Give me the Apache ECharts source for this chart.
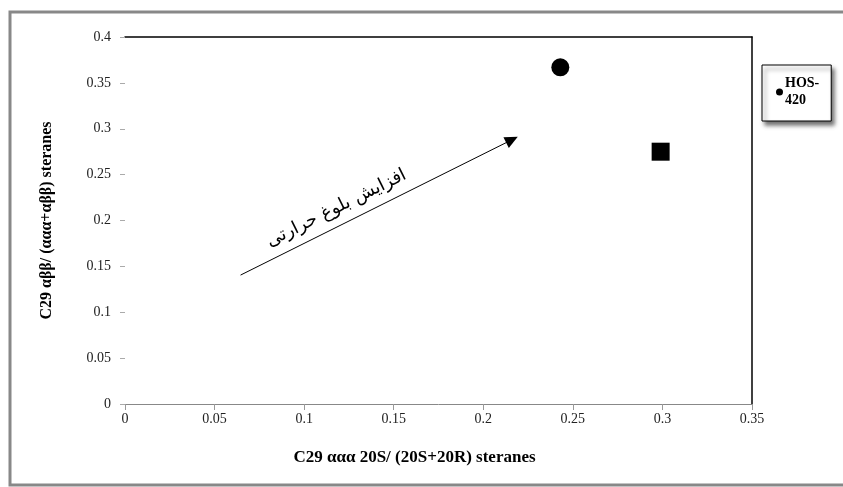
<!DOCTYPE html>
<html>
<head>
<meta charset="utf-8">
<script src="https://cdn.jsdelivr.net/npm/echarts@6/dist/echarts.min.js"></script>
<style>
    html, body { margin: 0; padding: 0; background: #fff; }
    #chart { width: 843px; height: 487px; }
</style>
</head>
<body>
<div id="chart"></div>
<script>
// values
const xTitle = 'C29 ααα 20S/ (20S+20R) steranes'
const yTitle = 'C29 αββ/ (ααα+αββ) steranes'
const legendName = 'HOS-420'
const circlePoints = [[0.243, 0.367]]
const squarePoints = [[0.299, 0.275]]
const arrowFrom = [0.0645, 0.1405]
const arrowTo = [0.216, 0.288]
const arrowText = 'افزایش بلوغ حرارتی'

const serif = 'Liberation Serif, Times New Roman, serif'

const chart = echarts.init(document.getElementById('chart'))

chart.setOption({
    animation: false,
    backgroundColor: '#fff',
    graphic: [
        {
            type: 'rect',
            shape: { x: 10, y: 12, width: 860, height: 473 },
            style: { fill: 'none', stroke: '#888', lineWidth: 3 },
            silent: true,
        },
    ],
    grid: { left: 125, top: 37, right: 91, bottom: 83 },
    legend: {
        data: [legendName],
        left: 762,
        top: 65,
        orient: 'vertical',
        padding: [10, 12, 12, 14],
        backgroundColor: '#fff',
        borderColor: '#000',
        borderWidth: 1,
        shadowColor: 'rgba(0,0,0,0.55)',
        shadowBlur: 4,
        shadowOffsetX: 3,
        shadowOffsetY: 4,
        itemWidth: 7,
        itemHeight: 7,
        itemGap: 4,
        formatter: () => 'HOS-\n420',
        textStyle: { fontFamily: serif, fontWeight: 'bold', fontSize: 14, color: '#000', lineHeight: 17, padding: [0, 0, 0, -3] },
    },
    xAxis: [
        {
            type: 'value',
            min: 0,
            max: 0.35,
            interval: 0.05,
            name: xTitle,
            nameLocation: 'middle',
            nameGap: 45,
            nameTextStyle: { fontFamily: serif, fontWeight: 'bold', fontSize: 17, color: '#000', padding: [0, 48, 0, 0] },
            axisLine: { show: true, lineStyle: { color: '#888', width: 1 } },
            axisTick: { show: true, length: 6, lineStyle: { color: '#999' } },
            axisLabel: { fontFamily: serif, fontSize: 14, color: '#222', margin: 8 },
            splitLine: { show: false },
        },
        {
            type: 'value',
            position: 'top',
            min: 0,
            max: 0.35,
            axisLine: { show: true, onZero: false, lineStyle: { color: '#000', width: 1.5 } },
            axisTick: { show: false },
            axisLabel: { show: false },
            splitLine: { show: false },
        },
    ],
    yAxis: [
        {
            type: 'value',
            min: 0,
            max: 0.4,
            interval: 0.05,
            name: yTitle,
            nameLocation: 'middle',
            nameRotate: 90,
            nameGap: 70,
            nameTextStyle: { fontFamily: serif, fontWeight: 'bold', fontSize: 16, color: '#000' },
            axisLine: { show: false },
            axisTick: { show: true, length: 5, lineStyle: { color: '#aaa' } },
            axisLabel: { fontFamily: serif, fontSize: 14, color: '#222', margin: 14 },
            splitLine: { show: false },
        },
        {
            type: 'value',
            position: 'right',
            min: 0,
            max: 0.4,
            axisLine: { show: true, onZero: false, lineStyle: { color: '#000', width: 1.5 } },
            axisTick: { show: false },
            axisLabel: { show: false },
            splitLine: { show: false },
        },
    ],
    series: [
        {
            name: legendName,
            type: 'scatter',
            symbol: 'circle',
            symbolSize: 18,
            itemStyle: { color: '#000', opacity: 1 },
            data: circlePoints,
            z: 5,
        },
        {
            name: 'square',
            type: 'scatter',
            symbol: 'rect',
            symbolSize: 18,
            itemStyle: { color: '#000', opacity: 1 },
            data: squarePoints,
            z: 5,
        },
        {
            name: 'arrow',
            type: 'line',
            data: [],
            markLine: {
                silent: true,
                symbol: ['none', 'triangle'],
                symbolSize: [12, 13],
                lineStyle: { color: '#000', width: 1, type: 'solid' },
                label: {
                    show: true,
                    position: 'insideMiddleTop',
                    formatter: arrowText,
                    fontFamily: 'DejaVu Sans',
                    fontSize: 18,
                    color: '#000',
                    distance: 8,
                    padding: [0, 72, 0, 0],
                },
                data: [[{ coord: arrowFrom }, { coord: arrowTo }]],
            },
        },
    ],
})
</script>
</body>
</html>
